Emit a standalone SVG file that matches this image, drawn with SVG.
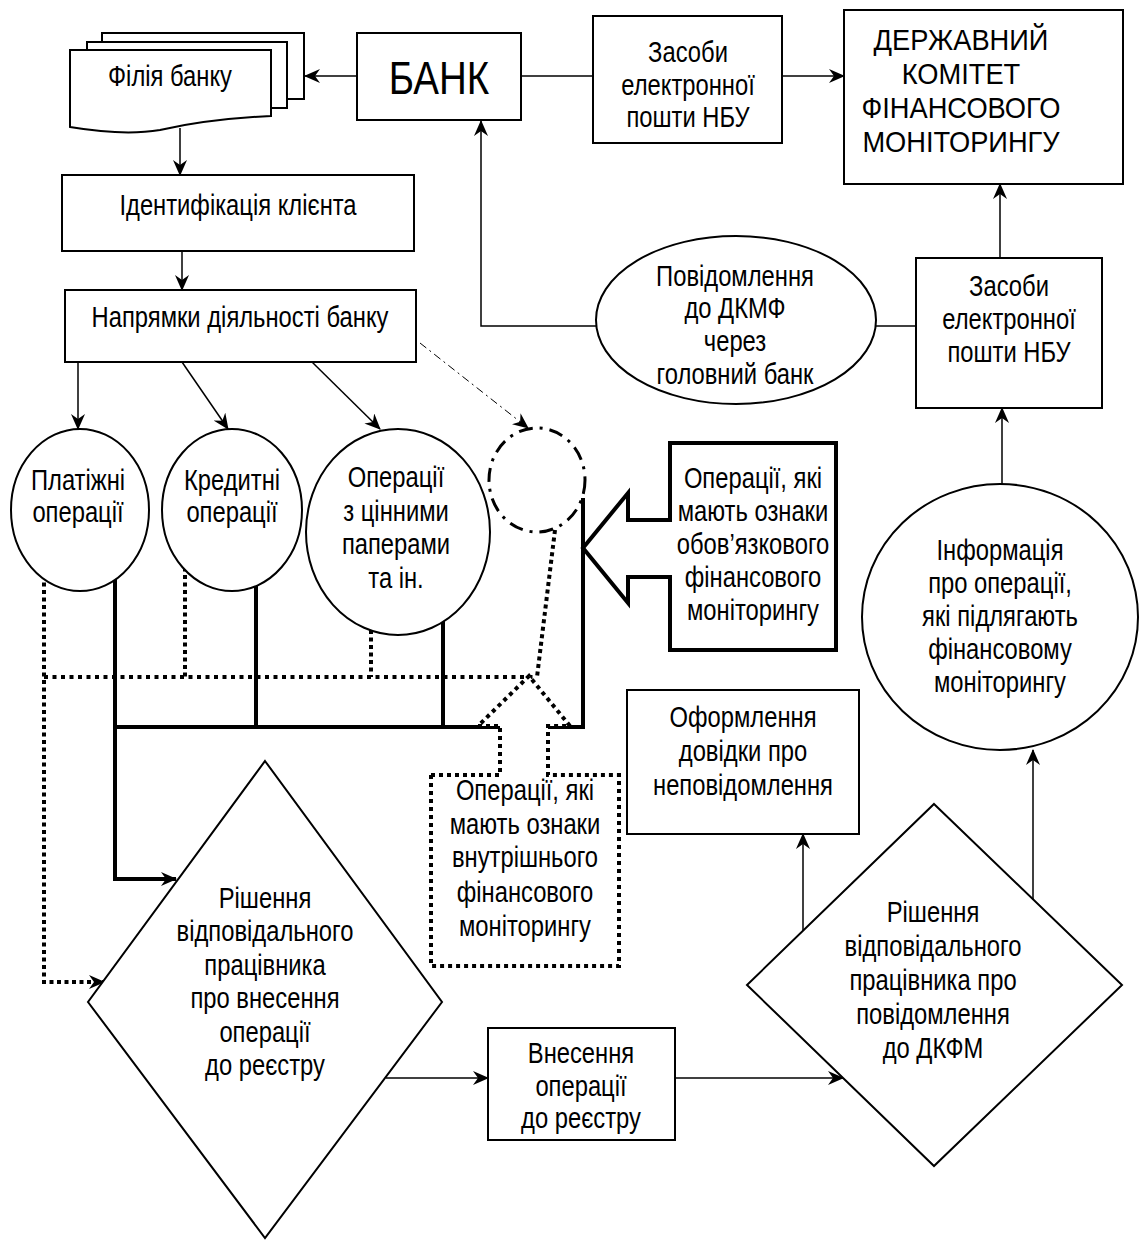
<svg xmlns="http://www.w3.org/2000/svg" width="1142" height="1241" viewBox="0 0 1142 1241">
<defs>
<style>
.box{fill:#fff;stroke:#000;stroke-width:2}
.thin{fill:none;stroke:#000;stroke-width:1.5}
.thick{fill:none;stroke:#000;stroke-width:4}
.dotv{fill:none;stroke:#000;stroke-width:4;stroke-dasharray:4 3.5}
.doth{fill:none;stroke:#000;stroke-width:4;stroke-dasharray:4 4.5}
.dashdot{fill:none;stroke:#000;stroke-width:1;stroke-dasharray:8 4 2 4}
.t{font-family:"Liberation Sans",Arial,sans-serif;font-size:29px;text-anchor:middle;fill:#000}
</style>
<marker id="ah" viewBox="0 0 16 14" refX="15" refY="7" markerWidth="16" markerHeight="14" markerUnits="userSpaceOnUse" orient="auto"><path d="M0,0 L16,7 L0,14 L5,7 z" fill="#000"/></marker>
</defs>
<rect width="1142" height="1241" fill="#fff"/>
<g id="connectors">
<line class="thin" x1="357" y1="76" x2="305" y2="76" marker-end="url(#ah)"/>
<line class="thin" x1="521" y1="76" x2="593" y2="76"/>
<line class="thin" x1="782" y1="76" x2="844" y2="76" marker-end="url(#ah)"/>
<line class="thin" x1="180" y1="128" x2="180" y2="175" marker-end="url(#ah)"/>
<line class="thin" x1="182" y1="251" x2="182" y2="290" marker-end="url(#ah)"/>
<line class="thin" x1="78" y1="362" x2="78" y2="429" marker-end="url(#ah)"/>
<line class="thin" x1="182" y1="362" x2="228" y2="429" marker-end="url(#ah)"/>
<line class="thin" x1="312" y1="362" x2="380" y2="429" marker-end="url(#ah)"/>
<line class="dashdot" x1="420" y1="343" x2="528" y2="428" marker-end="url(#ah)"/>
<polyline class="thin" points="597,326 481,326 481,121" marker-end="url(#ah)"/>
<line class="thin" x1="874" y1="326" x2="916" y2="326"/>
<line class="thin" x1="1000" y1="258" x2="1000" y2="184" marker-end="url(#ah)"/>
<line class="thin" x1="1002" y1="484" x2="1002" y2="408" marker-end="url(#ah)"/>
<line class="thin" x1="1033" y1="899" x2="1033" y2="750" marker-end="url(#ah)"/>
<line class="thin" x1="803" y1="931" x2="803" y2="834" marker-end="url(#ah)"/>
<line class="thin" x1="675" y1="1078" x2="843" y2="1078" marker-end="url(#ah)"/>
<line class="thin" x1="386" y1="1078" x2="488" y2="1078" marker-end="url(#ah)"/>
<polyline class="thick" points="115,560 115,879 176,879" marker-end="url(#ah)"/>
<line class="thick" x1="256" y1="560" x2="256" y2="727"/>
<line class="thick" x1="443" y1="580" x2="443" y2="727"/>
<line class="thick" x1="113" y1="727" x2="500" y2="727"/>
<polyline class="thick" points="548,727 583,727 583,498"/>
<polyline class="dotv" points="44,560 44,982 104,982" marker-end="url(#ah)"/>
<line class="doth" x1="44" y1="677" x2="537" y2="677"/>
<line class="dotv" x1="185" y1="560" x2="185" y2="677"/>
<line class="dotv" x1="371" y1="600" x2="371" y2="677"/>
<line class="dotv" x1="555" y1="530" x2="537" y2="677"/>
</g>
<g id="filia">
<rect class="box" x="102" y="33" width="202" height="66"/>
<rect class="box" x="87" y="42" width="200" height="66"/>
<path class="box" d="M70,50 H271 V116 C230,118 195,122 160,130 C130,135 100,132 70,127 Z"/>
<text class="t" transform="matrix(0.82 0 0 1 170 0)"><tspan x="0" y="86">Філія банку</tspan></text>
</g>
<g id="bank">
<rect class="box" x="357" y="33" width="164" height="87"/>
<text class="t" transform="matrix(0.82 0 0 1 439 0)" style="font-size:47px"><tspan x="0" y="94">БАНК</tspan></text>
</g>
<g id="email1">
<rect class="box" x="593" y="16" width="189" height="127"/>
<text class="t" transform="matrix(0.82 0 0 1 688 0)"><tspan x="0" y="62">Засоби</tspan><tspan x="0" y="95">електронної</tspan><tspan x="0" y="127">пошти НБУ</tspan></text>
</g>
<g id="dkfm">
<rect class="box" x="844" y="10" width="279" height="174"/>
<text class="t" transform="matrix(0.94 0 0 1 961 0)"><tspan x="0" y="50">ДЕРЖАВНИЙ</tspan><tspan x="0" y="84">КОМІТЕТ</tspan><tspan x="0" y="118">ФІНАНСОВОГО</tspan><tspan x="0" y="152">МОНІТОРИНГУ</tspan></text>
</g>
<g id="ident">
<rect class="box" x="62" y="175" width="352" height="76"/>
<text class="t" transform="matrix(0.82 0 0 1 238 0)"><tspan x="0" y="215">Ідентифікація клієнта</tspan></text>
</g>
<g id="napr">
<rect class="box" x="65" y="290" width="351" height="72"/>
<text class="t" transform="matrix(0.82 0 0 1 240 0)"><tspan x="0" y="327">Напрямки діяльності банку</tspan></text>
</g>
<g id="povid">
<ellipse class="box" cx="736" cy="320" rx="140" ry="84"/>
<text class="t" transform="matrix(0.82 0 0 1 735 0)"><tspan x="0" y="286">Повідомлення</tspan><tspan x="0" y="318">до ДКМФ</tspan><tspan x="0" y="351">через</tspan><tspan x="0" y="384">головний банк</tspan></text>
</g>
<g id="email2">
<rect class="box" x="916" y="258" width="186" height="150"/>
<text class="t" transform="matrix(0.82 0 0 1 1009 0)"><tspan x="0" y="296">Засоби</tspan><tspan x="0" y="329">електронної</tspan><tspan x="0" y="362">пошти НБУ</tspan></text>
</g>
<g id="platizh">
<ellipse class="box" cx="80" cy="510" rx="69" ry="81"/>
<text class="t" transform="matrix(0.82 0 0 1 78 0)"><tspan x="0" y="490">Платіжні</tspan><tspan x="0" y="522">операції</tspan></text>
</g>
<g id="kredyt">
<ellipse class="box" cx="232" cy="510" rx="70" ry="81"/>
<text class="t" transform="matrix(0.82 0 0 1 232 0)"><tspan x="0" y="490">Кредитні</tspan><tspan x="0" y="522">операції</tspan></text>
</g>
<g id="tsinni">
<ellipse class="box" cx="398" cy="532" rx="92" ry="103"/>
<text class="t" transform="matrix(0.82 0 0 1 396 0)"><tspan x="0" y="487">Операції</tspan><tspan x="0" y="521">з цінними</tspan><tspan x="0" y="554">паперами</tspan><tspan x="0" y="588">та ін.</tspan></text>
</g>
<g id="other">
<ellipse cx="537" cy="480" rx="48" ry="52" fill="none" stroke="#000" stroke-width="3" stroke-dasharray="14 7 3 7"/>
</g>
<g id="obov">
<path d="M670,443 H836 V650 H670 V577 H628 V603 L583,548 L628,493 V520 H670 Z" fill="#fff" stroke="#000" stroke-width="4"/>
<text class="t" transform="matrix(0.82 0 0 1 753 0)"><tspan x="0" y="488">Операції, які</tspan><tspan x="0" y="521">мають ознаки</tspan><tspan x="0" y="554">обов’язкового</tspan><tspan x="0" y="587">фінансового</tspan><tspan x="0" y="620">моніторингу</tspan></text>
</g>
<g id="vnutr">
<path d="M431,775 H500 V726 H478 L529,676 L570,726 H548 V775 H619 V966 H431 Z" fill="#fff" stroke="#000" stroke-width="4" stroke-dasharray="4 4"/>
<text class="t" transform="matrix(0.82 0 0 1 525 0)"><tspan x="0" y="800">Операції, які</tspan><tspan x="0" y="834">мають ознаки</tspan><tspan x="0" y="867">внутрішнього</tspan><tspan x="0" y="902">фінансового</tspan><tspan x="0" y="936">моніторингу</tspan></text>
</g>
<g id="inform">
<ellipse class="box" cx="1000" cy="617" rx="138" ry="133"/>
<text class="t" transform="matrix(0.82 0 0 1 1000 0)"><tspan x="0" y="560">Інформація</tspan><tspan x="0" y="593">про операції,</tspan><tspan x="0" y="626">які підлягають</tspan><tspan x="0" y="659">фінансовому</tspan><tspan x="0" y="692">моніторингу</tspan></text>
</g>
<g id="oform">
<rect class="box" x="627" y="690" width="232" height="144"/>
<text class="t" transform="matrix(0.82 0 0 1 743 0)"><tspan x="0" y="727">Оформлення</tspan><tspan x="0" y="761">довідки про</tspan><tspan x="0" y="795">неповідомлення</tspan></text>
</g>
<g id="rishennia1">
<polygon class="box" points="265,761 442,1002 265,1238 88,1002"/>
<text class="t" transform="matrix(0.82 0 0 1 265 0)"><tspan x="0" y="908">Рішення</tspan><tspan x="0" y="941">відповідального</tspan><tspan x="0" y="975">працівника</tspan><tspan x="0" y="1008">про внесення</tspan><tspan x="0" y="1042">операції</tspan><tspan x="0" y="1075">до реєстру</tspan></text>
</g>
<g id="vnesennia">
<rect class="box" x="488" y="1028" width="187" height="112"/>
<text class="t" transform="matrix(0.82 0 0 1 581 0)"><tspan x="0" y="1063">Внесення</tspan><tspan x="0" y="1096">операції</tspan><tspan x="0" y="1128">до реєстру</tspan></text>
</g>
<g id="rishennia2">
<polygon class="box" points="934,804 1122,985 934,1166 747,985"/>
<text class="t" transform="matrix(0.82 0 0 1 933 0)"><tspan x="0" y="922">Рішення</tspan><tspan x="0" y="956">відповідального</tspan><tspan x="0" y="990">працівника про</tspan><tspan x="0" y="1024">повідомлення</tspan><tspan x="0" y="1058">до ДКФМ</tspan></text>
</g>
</svg>
